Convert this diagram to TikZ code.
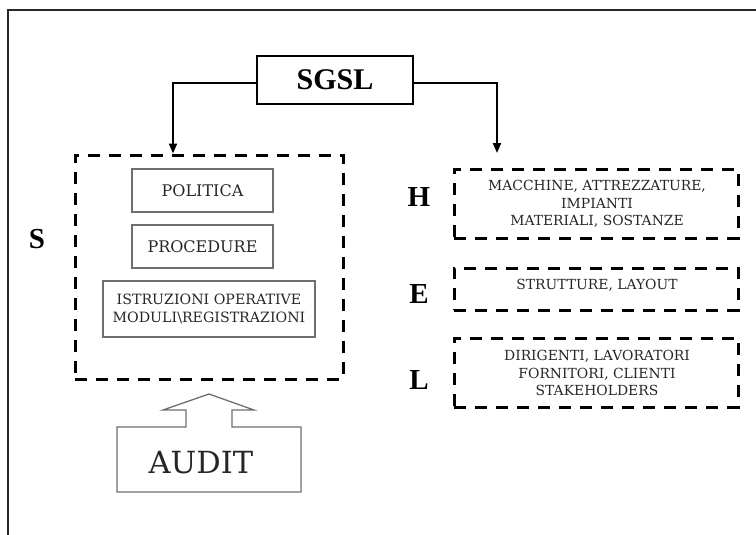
\documentclass[tikz,border=0pt]{standalone}
\usepackage{fontspec}
\setmainfont{Liberation Serif}
\newfontfamily\slabfont{DejaVu Serif}
\usetikzlibrary{arrows.meta}

\definecolor{boxgray}{HTML}{6E6E6E}
\definecolor{inktext}{HTML}{262626}

\tikzset{
  framebar/.style={line width=1.3pt, draw=black!85},
  headbox/.style={draw, line width=2.4pt, minimum width=156pt, minimum height=48pt,
    inner sep=0pt, font=\bfseries\fontsize{30}{30}\selectfont},
  groupbox/.style={draw, dashed, line width=3pt, dash pattern=on 12pt off 9pt,
    inner sep=0pt},
  itembox/.style={draw=boxgray, line width=1.3pt, inner sep=0pt, text=inktext,
    font=\slabfont\fontsize{16}{18}\selectfont, align=center},
  itemtext/.style={inner sep=0pt, text=inktext,
    font=\slabfont\fontsize{13.9}{17.3}\selectfont, align=center},
  letter/.style={inner sep=0pt, font=\bfseries\fontsize{29}{29}\selectfont},
  conn/.style={line width=2pt},
  tip/.style={-{Triangle[length=10pt,width=8pt]}},
}

\begin{document}
\begin{tikzpicture}[x=1pt,y=-1pt]
\useasboundingbox (0,0) rectangle (756,535);

% page frame
\draw[framebar] (8,535) -- (8,10) -- (756,10);

% head of the system
\node[headbox] (sgsl) at (335,80) {SGSL};

% S group with its documents
\node[groupbox, minimum width=268pt, minimum height=224pt] (sbox) at (209,267) {};
\node[letter] (S) at (37,239) {S};
\node[itembox, minimum width=141pt, minimum height=43pt] (politica) at (202.5,190.5) {POLITICA};
\node[itembox, minimum width=141pt, minimum height=43pt] (procedure) at (202.5,246.5) {PROCEDURE};
\node[itembox, minimum width=212pt, minimum height=56pt,
  font=\slabfont\fontsize{14.2}{18}\selectfont] (istr) at (209,309)
  {ISTRUZIONI OPERATIVE\\MODULI\textbackslash REGISTRAZIONI};

% H, E, L groups
\node[groupbox, minimum width=284pt, minimum height=69pt] (hbox) at (596,203.5) {};
\node[groupbox, minimum width=284pt, minimum height=42pt] (ebox) at (596,289) {};
\node[groupbox, minimum width=284pt, minimum height=69pt] (lbox) at (596,372.5) {};
\node[letter] (H) at (419,197) {H};
\node[letter] (E) at (419,294) {E};
\node[letter] (L) at (419,380) {L};
\node[itemtext] (htext) at (597,204) {MACCHINE, ATTREZZATURE,\\IMPIANTI\\MATERIALI, SOSTANZE};
\node[itemtext] (etext) at (597,285) {STRUTTURE, LAYOUT};
\node[itemtext] (ltext) at (597,373) {DIRIGENTI, LAVORATORI\\FORNITORI, CLIENTI\\STAKEHOLDERS};

% connectors from the head
\coordinate (lturn) at (173,83);
\coordinate (rturn) at (497,83);
\coordinate (rend) at (497,153);
\draw[conn, tip] (sgsl.west |- lturn) -- (lturn) -- (lturn |- sbox.north);
\draw[conn, tip] (sgsl.east |- rturn) -- (rturn) -- (rend);

% audit block arrow
\draw[draw=boxgray, line width=1.3pt, line join=miter]
  (117,492) -- (117,427) -- (186,427) -- (186,410) -- (163,410) -- (209,394)
  -- (254,410) -- (232,410) -- (232,427) -- (301,427) -- (301,492) -- cycle;
\node[inner sep=0pt, text=inktext, font=\slabfont\fontsize{30.5}{30}\selectfont] (audit) at (201,463) {AUDIT};
\end{tikzpicture}
\end{document}
